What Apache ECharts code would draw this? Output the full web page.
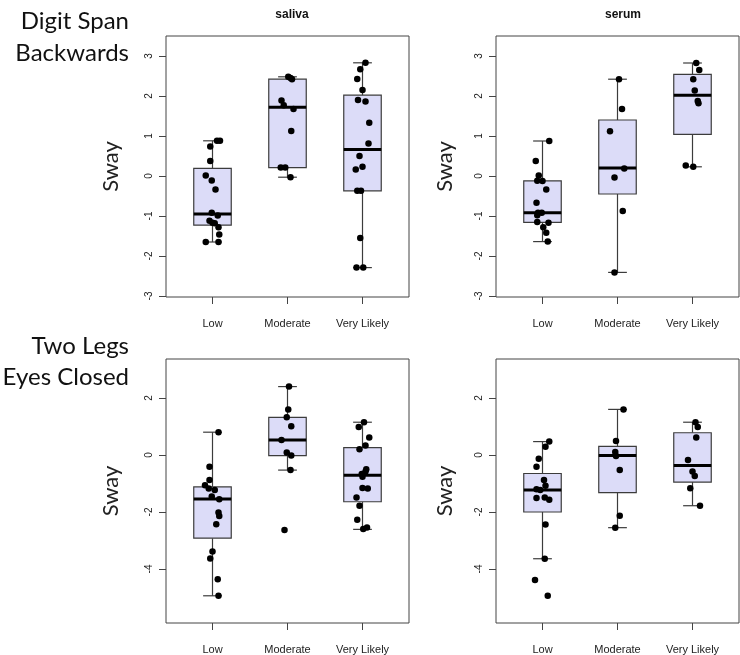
<!DOCTYPE html>
<html><head><meta charset="utf-8">
<script src="https://cdn.jsdelivr.net/npm/echarts@6/dist/echarts.min.js"></script>
<style>html,body{margin:0;padding:0;background:#fff}#c{width:740px;height:655px}</style>
</head><body><div id="c"></div>
<script>
const categories = ['Low', 'Moderate', 'Very Likely'];
const columnTitles = ['saliva', 'serum'];
const rowLabels = ['Digit Span\nBackwards', 'Two Legs\nEyes Closed'];
const yAxisName = 'Sway';
const yTicksDigit = [-3, -2, -1, 0, 1, 2, 3];
const yTicksLegs = [-4, -2, 0, 2];

// box statistics: [lower whisker, Q1, median, Q3, upper whisker] for Low, Moderate, Very Likely
const boxDigitSaliva = [[-1.65, -1.23, -0.95, 0.19, 0.88], [-0.03, 0.21, 1.72, 2.42, 2.48], [-2.29, -0.37, 0.66, 2.02, 2.83]];
const boxDigitSerum  = [[-1.64, -1.16, -0.92, -0.12, 0.875], [-2.41, -0.45, 0.20, 1.40, 2.42], [0.23, 1.04, 2.02, 2.54, 2.825]];
const boxLegsSaliva  = [[-4.94, -2.92, -1.54, -1.12, 0.80], [-0.53, -0.02, 0.53, 1.32, 2.40], [-2.61, -1.64, -0.71, 0.26, 1.15]];
const boxLegsSerum   = [[-3.64, -2.0, -1.23, -0.65, 0.47], [-2.55, -1.32, -0.02, 0.30, 1.60], [-1.78, -0.95, -0.37, 0.78, 1.15]];

// individual points: [horizontal jitter (category units), Sway]
const ptsDigitSalivaLow = [[0.06,0.88],[0.10,0.88],[-0.03,0.74],[-0.03,0.375],[-0.09,0.01],[-0.01,-0.11],[0.04,-0.34],[-0.01,-0.92],[0.07,-0.99],[-0.04,-1.12],[0,-1.17],[0.03,-1.18],[0.08,-1.28],[0.09,-1.46],[-0.09,-1.65],[0.08,-1.65]];
const ptsDigitSalivaModerate = [[0.01,2.48],[0.04,2.45],[0.06,2.42],[-0.08,1.89],[-0.05,1.77],[0.08,1.675],[0.05,1.125],[-0.09,0.21],[-0.03,0.21],[0.04,-0.03]];
const ptsDigitSalivaVeryLikely = [[0.04,2.83],[-0.03,2.67],[-0.07,2.425],[0,2.15],[-0.06,1.9],[0.04,1.86],[0.09,1.33],[0.08,0.81],[-0.04,0.5],[0,0.23],[-0.09,0.16],[-0.07,-0.37],[-0.02,-0.37],[-0.03,-1.55],[-0.08,-2.29],[0.01,-2.29]];
const ptsDigitSerumLow = [[0.09,0.875],[-0.09,0.375],[-0.05,0.01],[-0.07,-0.12],[0,-0.125],[0.05,-0.34],[-0.08,-0.67],[-0.01,-0.92],[-0.06,-0.92],[-0.07,-0.98],[-0.07,-1.15],[0.08,-1.17],[0.01,-1.28],[0.05,-1.42],[0.07,-1.64]];
const ptsDigitSerumModerate = [[0.02,2.42],[0.06,1.675],[-0.10,1.12],[0.09,0.19],[-0.04,-0.04],[0.07,-0.875],[-0.04,-2.41]];
const ptsDigitSerumVeryLikely = [[0.05,2.825],[0.09,2.65],[0.01,2.42],[0.03,2.14],[0.07,1.875],[0.08,1.82],[-0.09,0.26],[0.01,0.23]];
const ptsLegsSalivaLow = [[0.08,0.80],[-0.04,-0.41],[-0.04,-0.88],[-0.10,-1.06],[-0.05,-1.18],[0.03,-1.23],[-0.01,-1.46],[0.09,-1.55],[0.08,-2.02],[0.09,-2.14],[0.05,-2.43],[0,-3.39],[-0.03,-3.63],[0.07,-4.36],[0.08,-4.94]];
const ptsLegsSalivaModerate = [[0.02,2.40],[0.01,1.60],[-0.01,1.32],[0.05,1.01],[-0.08,0.53],[-0.01,0.09],[0.05,-0.02],[0.04,-0.53],[-0.04,-2.63]];
const ptsLegsSalivaVeryLikely = [[0.02,1.15],[-0.05,0.98],[0.09,0.61],[0.04,0.33],[-0.04,0.20],[0.05,-0.50],[0.04,-0.58],[-0.01,-0.67],[0,-0.76],[0,-1.16],[0.07,-1.18],[-0.08,-1.49],[-0.04,-1.78],[-0.07,-2.27],[0.01,-2.60],[0.06,-2.54]];
const ptsLegsSerumLow = [[0.09,0.47],[0.04,0.29],[-0.05,-0.13],[-0.08,-0.41],[0.02,-0.88],[0.04,-1.08],[-0.08,-1.20],[-0.03,-1.23],[-0.08,-1.51],[0.03,-1.49],[0.09,-1.57],[0.04,-2.44],[0.03,-3.64],[-0.10,-4.39],[0.07,-4.94]];
const ptsLegsSerumModerate = [[0.08,1.60],[-0.02,0.49],[-0.03,0.105],[-0.02,-0.035],[0.03,-0.53],[0.03,-2.13],[-0.03,-2.55]];
const ptsLegsSerumVeryLikely = [[0.04,1.15],[0.07,0.98],[0.05,0.61],[-0.06,-0.18],[0,-0.58],[0.03,-0.74],[-0.03,-1.17],[0.10,-1.78]];

const panels = [
  {boxes: boxDigitSaliva, pts: [ptsDigitSalivaLow, ptsDigitSalivaModerate, ptsDigitSalivaVeryLikely], ticks: yTicksDigit, ymin: -3.025, ymax: 3.5, nameGap: 44, grid: {left: 166, top: 36, width: 243, height: 261}},
  {boxes: boxDigitSerum, pts: [ptsDigitSerumLow, ptsDigitSerumModerate, ptsDigitSerumVeryLikely], ticks: yTicksDigit, ymin: -3.025, ymax: 3.5, nameGap: 40, grid: {left: 496, top: 36, width: 243, height: 261}},
  {boxes: boxLegsSaliva, pts: [ptsLegsSalivaLow, ptsLegsSalivaModerate, ptsLegsSalivaVeryLikely], ticks: yTicksLegs, ymin: -5.895, ymax: 3.368, nameGap: 44, grid: {left: 166, top: 359, width: 243, height: 264}},
  {boxes: boxLegsSerum, pts: [ptsLegsSerumLow, ptsLegsSerumModerate, ptsLegsSerumVeryLikely], ticks: yTicksLegs, ymin: -5.895, ymax: 3.368, nameGap: 40, grid: {left: 496, top: 359, width: 243, height: 264}}
];

const lineCol = '#3c3c3c';
function renderBox(params, api) {
  const x = api.value(0);
  const lo = api.coord([x, api.value(1)]);
  const q1 = api.coord([x, api.value(2)]);
  const md = api.coord([x, api.value(3)]);
  const q3 = api.coord([x, api.value(4)]);
  const hi = api.coord([x, api.value(5)]);
  const halfW = api.size([0.25, 0])[0];
  const capW = halfW / 2;
  const cx = md[0];
  const ls = {stroke: lineCol, lineWidth: 1.2};
  return {type: 'group', children: [
    {type: 'line', shape: {x1: cx, y1: q3[1], x2: cx, y2: hi[1]}, style: ls},
    {type: 'line', shape: {x1: cx, y1: q1[1], x2: cx, y2: lo[1]}, style: ls},
    {type: 'line', shape: {x1: cx - capW, y1: hi[1], x2: cx + capW, y2: hi[1]}, style: ls},
    {type: 'line', shape: {x1: cx - capW, y1: lo[1], x2: cx + capW, y2: lo[1]}, style: ls},
    {type: 'rect', shape: {x: cx - halfW, y: q3[1], width: 2 * halfW, height: q1[1] - q3[1]}, style: {fill: '#dcdcf8', stroke: lineCol, lineWidth: 1.2}},
    {type: 'line', shape: {x1: cx - halfW, y1: md[1], x2: cx + halfW, y2: md[1]}, style: {stroke: '#000', lineWidth: 3}}
  ]};
}

const grids = [], xAxes = [], yAxes = [], series = [];
panels.forEach((p, i) => {
  grids.push(Object.assign({show: true, borderColor: '#444', borderWidth: 1, backgroundColor: 'transparent'}, p.grid));
  xAxes.push({
    type: 'value', gridIndex: i, position: 'bottom', min: 0.38, max: 3.62,
    axisLine: {show: false, onZero: false}, splitLine: {show: false},
    axisTick: {show: true, customValues: [1, 2, 3], length: 7, lineStyle: {color: '#444'}},
    axisLabel: {show: true, customValues: [1, 2, 3], margin: 21, fontFamily: 'Liberation Sans', fontSize: 11, color: '#222',
      formatter: v => categories[Math.round(v) - 1] || ''}
  });
  yAxes.push({
    type: 'value', gridIndex: i, position: 'left', min: p.ymin, max: p.ymax,
    name: yAxisName, nameLocation: 'middle', nameRotate: 90, nameGap: p.nameGap,
    nameTextStyle: {fontFamily: 'Lato', fontSize: 22, color: '#222'},
    axisLine: {show: false, onZero: false}, splitLine: {show: false},
    axisTick: {show: true, customValues: p.ticks, length: 7, lineStyle: {color: '#444'}},
    axisLabel: {show: true, customValues: p.ticks, rotate: 90, margin: 12, fontFamily: 'Liberation Sans', fontSize: 10, color: '#222'}
  });
  series.push({
    type: 'custom', xAxisIndex: i, yAxisIndex: i, renderItem: renderBox, z: 2,
    encode: {x: 0, y: [1, 2, 3, 4, 5]},
    data: p.boxes.map((b, gi) => [gi + 1].concat(b))
  });
  const sdata = [];
  p.pts.forEach((arr, gi) => arr.forEach(pt => sdata.push([gi + 1 + pt[0], pt[1]])));
  series.push({
    type: 'scatter', xAxisIndex: i, yAxisIndex: i, z: 5, symbolSize: 6.5,
    itemStyle: {color: '#000', opacity: 1}, data: sdata
  });
});

const chart = echarts.init(document.getElementById('c'), null, {renderer: 'canvas'});
chart.setOption({
  animation: false,
  backgroundColor: '#fff',
  title: [
    {text: columnTitles[0], left: 287, top: 4, textAlign: 'center', textStyle: {fontFamily: 'Liberation Sans', fontWeight: 'bold', fontSize: 12, color: '#111'}},
    {text: columnTitles[1], left: 618, top: 4, textAlign: 'center', textStyle: {fontFamily: 'Liberation Sans', fontWeight: 'bold', fontSize: 12, color: '#111'}}
  ],
  graphic: [
    {type: 'text', x: 129, y: 37, style: {text: rowLabels[0], align: 'right', verticalAlign: 'middle', font: '24px Lato', lineHeight: 32, fill: '#111'}},
    {type: 'text', x: 129, y: 362, style: {text: rowLabels[1], align: 'right', verticalAlign: 'middle', font: '24px Lato', lineHeight: 31, fill: '#111'}}
  ],
  grid: grids, xAxis: xAxes, yAxis: yAxes, series: series
});
</script></body></html>
